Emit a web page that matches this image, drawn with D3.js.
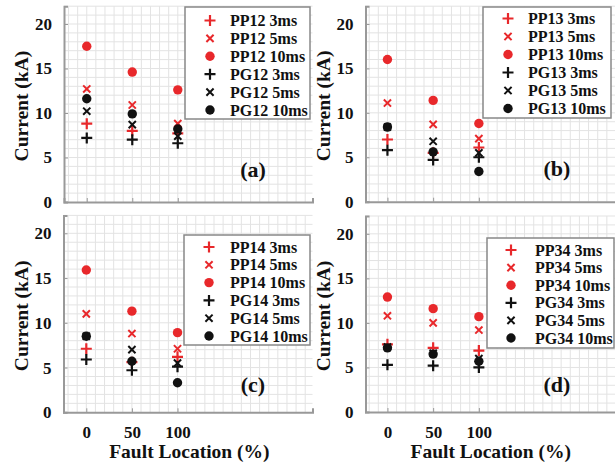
<!DOCTYPE html>
<html><head><meta charset="utf-8">
<script src="https://cdn.jsdelivr.net/npm/d3@7"></script>
<style>
html,body{margin:0;padding:0;background:#fff;}
svg{display:block;}
text{font-family:"Liberation Serif","Times New Roman",Times,serif;font-weight:bold;fill:#111;}
</style></head>
<body>
<svg id="chart" width="615" height="468"></svg>
<script>
// ---- data ----
const locations = [0, 50, 100];
const xTicks = [0, 50, 100];
const yTicks = [0, 5, 10, 15, 20];
const durations = ["3ms", "5ms", "10ms"];
const faultTypes = ["PP", "PG"];
const pairIds = ["12", "13", "14", "34"];
const panelLabels = ["(a)", "(b)", "(c)", "(d)"];

const pp12_3ms  = [8.8, 8.0, 7.7];
const pp12_5ms  = [12.7, 10.9, 8.8];
const pp12_10ms = [17.5, 14.6, 12.6];
const pg12_3ms  = [7.2, 7.0, 6.6];
const pg12_5ms  = [10.2, 8.7, 7.4];
const pg12_10ms = [11.6, 9.9, 8.2];

const pp13_3ms  = [7.0, 5.5, 6.1];
const pp13_5ms  = [11.1, 8.7, 7.1];
const pp13_10ms = [16.0, 11.4, 8.8];
const pg13_3ms  = [5.8, 4.7, 5.0];
const pg13_5ms  = [8.4, 6.8, 5.5];
const pg13_10ms = [8.4, 5.6, 3.4];

const pp14_3ms  = [7.1, 5.6, 6.2];
const pp14_5ms  = [11.0, 8.8, 7.1];
const pp14_10ms = [15.9, 11.3, 8.9];
const pg14_3ms  = [5.9, 4.7, 5.1];
const pg14_5ms  = [8.5, 7.0, 5.5];
const pg14_10ms = [8.5, 5.7, 3.3];

const pp34_3ms  = [7.6, 7.2, 6.9];
const pp34_5ms  = [10.8, 10.0, 9.2];
const pp34_10ms = [12.9, 11.6, 10.7];
const pg34_3ms  = [5.3, 5.2, 5.0];
const pg34_5ms  = [7.3, 6.6, 6.0];
const pg34_10ms = [7.2, 6.5, 5.7];

const panelValues = [
  [pp12_3ms, pp12_5ms, pp12_10ms, pg12_3ms, pg12_5ms, pg12_10ms],
  [pp13_3ms, pp13_5ms, pp13_10ms, pg13_3ms, pg13_5ms, pg13_10ms],
  [pp14_3ms, pp14_5ms, pp14_10ms, pg14_3ms, pg14_5ms, pg14_10ms],
  [pp34_3ms, pp34_5ms, pp34_10ms, pg34_3ms, pg34_5ms, pg34_10ms]
];

// ---- layout ----
const RED = "#e8282b", BLACK = "#111";
const panels = [
  {x0: 64,    x1: 312.5, y0: 202,   y1: 6.2,   lx: 185, ly: 7,   lw: 125, lh: 112, row0: 20.5, rowStep: 17.9, mx: 210, tx: 230, showX: false},
  {x0: 365.5, x1: 616,   y0: 201.7, y1: 6.2,   lx: 483, ly: 7,   lw: 128, lh: 111, row0: 18.5, rowStep: 18,   mx: 508, tx: 528, showX: false},
  {x0: 63.5,  x1: 312.5, y0: 412.3, y1: 215.4, lx: 184, ly: 235, lw: 126, lh: 110, row0: 247, rowStep: 17.8, mx: 209, tx: 230, showX: true},
  {x0: 365.5, x1: 616,   y0: 412,   y1: 216,   lx: 487, ly: 238, lw: 127, lh: 110, row0: 250, rowStep: 17.6, mx: 511, tx: 535, showX: true}
];
const xDomains = [[-25, 248], [-24, 250], [-25, 248], [-24, 250]];
const yDomain = [0, 22];
const letterPos = [[253, 177], [557, 176], [253, 392], [557, 392]];

const svg = d3.select("#chart");

function markerPath(kind, size) {
  const p = d3.path();
  if (kind === 0) { // plus
    const h = size * 0.55;
    p.moveTo(-h, 0); p.lineTo(h, 0); p.moveTo(0, -h); p.lineTo(0, h);
  } else if (kind === 1) { // x
    const h = size * 0.36;
    p.moveTo(-h, -h); p.lineTo(h, h); p.moveTo(-h, h); p.lineTo(h, -h);
  }
  return p.toString();
}

function drawMarker(g, kind, color, cx, cy) {
  if (kind === 2) {
    g.append("circle").attr("cx", cx).attr("cy", cy).attr("r", 4.7).attr("fill", color);
  } else {
    g.append("path").attr("d", markerPath(kind, 10))
      .attr("transform", `translate(${cx},${cy})`)
      .attr("fill", "none").attr("stroke", color)
      .attr("stroke-width", kind === 0 ? 2.2 : 2.0);
  }
}

panels.forEach((P, i) => {
  const x = d3.scaleLinear().domain(xDomains[i]).range([P.x0, P.x1]);
  const y = d3.scaleLinear().domain(yDomain).range([P.y0, P.y1]);
  const g = svg.append("g");

  // grid
  const xg = d3.range(-20, xDomains[i][1] + 1, 10);
  const yg = d3.range(1, yDomain[1] + 1, 1);
  g.append("g").selectAll("line").data(xg).join("line")
    .attr("x1", d => x(d)).attr("x2", d => x(d)).attr("y1", P.y0).attr("y2", P.y1)
    .attr("stroke", "#e3e3e3").attr("stroke-width", 1);
  g.append("g").selectAll("line").data(yg).join("line")
    .attr("x1", P.x0).attr("x2", P.x1).attr("y1", d => y(d)).attr("y2", d => y(d))
    .attr("stroke", "#e3e3e3").attr("stroke-width", 1);

  // axes
  const ya = g.append("g").attr("transform", `translate(${P.x0},0)`)
    .call(d3.axisLeft(y).tickValues(yTicks).tickSize(-4).tickPadding(12).tickFormat(d3.format("d")));
  ya.select(".domain").attr("stroke", "#999").attr("stroke-width", 2);
  ya.selectAll(".tick line").attr("stroke", "#999");
  ya.selectAll(".tick text").attr("font-size", 17).attr("fill", "#111")
    .attr("font-family", "'Liberation Serif', 'Times New Roman', serif").attr("font-weight", "bold");

  const xa = g.append("g").attr("transform", `translate(0,${P.y0})`)
    .call(d3.axisBottom(x).tickValues(xTicks).tickSize(-4).tickPadding(14).tickFormat(d3.format("d")));
  xa.select(".domain").attr("stroke", "#999").attr("stroke-width", 2);
  xa.selectAll(".tick line").attr("stroke", "#999");
  xa.selectAll(".tick text").attr("font-size", 17).attr("fill", "#111")
    .attr("font-family", "'Liberation Serif', 'Times New Roman', serif").attr("font-weight", "bold")
    .style("display", P.showX ? null : "none");

  // y label
  g.append("text")
    .attr("transform", `translate(${P.x0 - 36},${(P.y0 + P.y1) / 2 + 2}) rotate(-90)`)
    .attr("text-anchor", "middle").attr("font-size", 19.5).text("Current (kA)");

  if (P.showX) {
    g.append("text").attr("x", x(113)).attr("y", P.y0 + 46)
      .attr("text-anchor", "middle").attr("font-size", 19.5).text("Fault Location (%)");
  }

  // markers
  const vals = panelValues[i];
  vals.forEach((series, s) => {
    const color = s < 3 ? RED : BLACK;
    const kind = s % 3;
    series.forEach((v, k) => drawMarker(g, kind, color, x(locations[k]), y(v)));
  });

  // panel letter
  g.append("text").attr("x", letterPos[i][0]).attr("y", letterPos[i][1])
    .attr("text-anchor", "middle").attr("font-size", 22).text(panelLabels[i]);

  // legend
  const lg = g.append("g");
  lg.append("rect").attr("x", P.lx).attr("y", P.ly).attr("width", P.lw).attr("height", P.lh)
    .attr("fill", "#fff").attr("stroke", "#888").attr("stroke-width", 1.5);
  let r = 0;
  faultTypes.forEach((ft, f) => {
    durations.forEach((du, d) => {
      const cy = P.row0 + r * P.rowStep;
      drawMarker(lg, d, f === 0 ? RED : BLACK, P.mx, cy);
      lg.append("text").attr("x", P.tx).attr("y", cy + 5.5)
        .attr("font-size", 16).text(`${ft}${pairIds[i]} ${du}`);
      r++;
    });
  });
});
</script>
</body></html>
